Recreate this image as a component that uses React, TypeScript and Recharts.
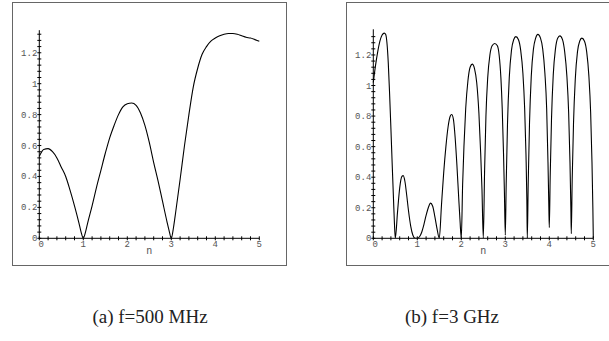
import React from "react";
import { LineChart, Line, XAxis, YAxis } from "recharts";

// f = 500 MHz
const leftN = [0, 0.1, 0.2, 0.3, 0.4, 0.5, 0.6, 0.7, 0.8, 0.9, 0.95, 1.0, 1.05, 1.1, 1.2, 1.3, 1.4, 1.5, 1.6, 1.7, 1.8, 1.9, 2.0, 2.1, 2.2, 2.3, 2.4, 2.5, 2.6, 2.7, 2.8, 2.9, 2.95, 3.0, 3.05, 3.1, 3.2, 3.3, 3.4, 3.5, 3.6, 3.7, 3.8, 3.9, 4.0, 4.1, 4.2, 4.3, 4.4, 4.5, 4.6, 4.7, 4.8, 4.9, 5.0];
const leftV = [0.53, 0.575, 0.58, 0.56, 0.52, 0.46, 0.4, 0.31, 0.21, 0.1, 0.04, 0.0, 0.04, 0.1, 0.21, 0.33, 0.44, 0.55, 0.65, 0.73, 0.8, 0.85, 0.87, 0.875, 0.86, 0.81, 0.73, 0.62, 0.49, 0.37, 0.24, 0.11, 0.05, 0.0, 0.07, 0.17, 0.38, 0.6, 0.8, 0.98, 1.1, 1.19, 1.24, 1.275, 1.295, 1.31, 1.32, 1.325, 1.325, 1.32, 1.31, 1.3, 1.295, 1.285, 1.275];

// f = 3 GHz
const rightN = [
  0, 0.05, 0.1, 0.15, 0.2, 0.25, 0.28, 0.31, 0.34, 0.37, 0.4, 0.43, 0.46, 0.48, 0.5,
  0.55, 0.6, 0.65, 0.68, 0.72, 0.76, 0.8, 0.85, 0.9, 0.95, 1.0, 1.05, 1.1,
  1.15, 1.2, 1.25, 1.3, 1.35, 1.4, 1.45, 1.5,
  1.55, 1.6, 1.65, 1.7, 1.75, 1.78, 1.82, 1.86, 1.9, 1.94, 1.97, 2.0,
  2.03, 2.06, 2.1, 2.15, 2.2, 2.25, 2.3, 2.35, 2.4, 2.44, 2.47, 2.5,
  2.53, 2.56, 2.6, 2.65, 2.7, 2.76, 2.82, 2.86, 2.9, 2.93, 2.96, 2.98, 3.0,
  3.02, 3.05, 3.09, 3.14, 3.19, 3.24, 3.3, 3.35, 3.4, 3.44, 3.47, 3.49, 3.5,
  3.52, 3.55, 3.59, 3.64, 3.69, 3.74, 3.8, 3.85, 3.9, 3.94, 3.97, 3.99, 4.0,
  4.02, 4.05, 4.09, 4.14, 4.19, 4.24, 4.3, 4.35, 4.4, 4.44, 4.47, 4.49, 4.5,
  4.52, 4.55, 4.59, 4.64, 4.69, 4.74, 4.8, 4.85, 4.9, 4.94, 4.97, 4.99, 5.0,
];
const rightV = [
  1.02, 1.13, 1.22, 1.29, 1.33, 1.343, 1.335, 1.28, 1.15, 0.95, 0.72, 0.48, 0.25, 0.1, 0.0,
  0.17, 0.33, 0.405, 0.41, 0.37, 0.28, 0.18, 0.08, 0.02, 0.0, 0.0, 0.01, 0.04,
  0.09, 0.15, 0.2, 0.23, 0.21, 0.14, 0.06, 0.0,
  0.22, 0.43, 0.6, 0.73, 0.8, 0.81, 0.78, 0.66, 0.48, 0.27, 0.12, 0.0,
  0.35, 0.6, 0.85, 1.03, 1.12, 1.14, 1.11, 1.02, 0.82, 0.56, 0.32, 0.0,
  0.45, 0.8, 1.05, 1.2, 1.26, 1.275, 1.26, 1.2, 1.05, 0.85, 0.55, 0.3, 0.02,
  0.35, 0.75, 1.05, 1.23, 1.3, 1.32, 1.3, 1.23, 1.08, 0.85, 0.55, 0.25, 0.0,
  0.35, 0.75, 1.06, 1.24, 1.31, 1.335, 1.31, 1.24, 1.08, 0.85, 0.5, 0.2, 0.07,
  0.4, 0.78, 1.07, 1.24, 1.31, 1.325, 1.3, 1.22, 1.06, 0.82, 0.5, 0.2, 0.03,
  0.38, 0.75, 1.04, 1.22, 1.29, 1.31, 1.29, 1.22, 1.06, 0.82, 0.5, 0.2, 0.0,
];

const xTicks = [0, 0.2, 0.4, 0.6, 0.8, 1, 1.2, 1.4, 1.6, 1.8, 2, 2.2, 2.4, 2.6, 2.8, 3, 3.2, 3.4, 3.6, 3.8, 4, 4.2, 4.4, 4.6, 4.8, 5];
const yTicks = [0, 0.04, 0.08, 0.12, 0.16, 0.2, 0.24, 0.28, 0.32, 0.36, 0.4, 0.44, 0.48, 0.52, 0.56, 0.6, 0.64, 0.68, 0.72, 0.76, 0.8, 0.84, 0.88, 0.92, 0.96, 1, 1.04, 1.08, 1.12, 1.16, 1.2, 1.24, 1.28, 1.32];
const xLabels = [0, 1, 2, 3, 4, 5];
const yLabels = [0, 0.2, 0.4, 0.6, 0.8, 1, 1.2];
const captions = ["(a) f=500 MHz", "(b) f=3 GHz"];
const xTitle = "n";

const leftData = leftN.map((n, i) => ({ n, v: leftV[i] }));
const rightData = rightN.map((n, i) => ({ n, v: rightV[i] }));

const LABEL_FONT = "'Liberation Mono', 'DejaVu Sans Mono', monospace";
const LABEL_COLOR = "#555";

const isLabel = (v: number, arr: number[]) => arr.some((a) => Math.abs(a - v) < 1e-6);

const XTick = (props: any) => {
  const { x, y, payload } = props;
  const v = payload.value as number;
  const major = isLabel(v, xLabels);
  return (
    <g>
      <line x1={x} x2={x} y1={y - 2} y2={y + 2} stroke="#000" strokeWidth={1} />
      {major && (
        <text
          x={v === 0 ? x + 2 : x}
          y={y + 9}
          textAnchor="middle"
          fontFamily={LABEL_FONT}
          fontSize={9}
          fill={LABEL_COLOR}
        >
          {String(v)}
        </text>
      )}
    </g>
  );
};

const YTick = (props: any) => {
  const { x, y, payload } = props;
  const v = payload.value as number;
  const major = isLabel(v, yLabels);
  return (
    <g>
      <line x1={x - 2} x2={x + 2} y1={y} y2={y} stroke="#000" strokeWidth={1} />
      {major && (
        <text
          x={x - 2}
          y={y + 3}
          textAnchor="end"
          fontFamily={LABEL_FONT}
          fontSize={9}
          fill={LABEL_COLOR}
        >
          {String(v)}
        </text>
      )}
    </g>
  );
};

const Panel = ({ data, yMax, top }: { data: any[]; yMax: number; top: number }) => (
  <LineChart
    width={300}
    height={280}
    data={data}
    margin={{ top, right: 40.7, bottom: 0, left: 0 }}
  >
    <XAxis
      dataKey="n"
      type="number"
      domain={[0, 5]}
      ticks={xTicks}
      interval={0}
      height={41.7}
      tickSize={0}
      tickMargin={0}
      tick={<XTick />}
      axisLine={{ stroke: "#000", strokeWidth: 1 }}
      tickLine={false}
      label={{ value: xTitle, position: "insideTop", offset: 9, fontFamily: LABEL_FONT, fontSize: 10, fill: LABEL_COLOR }}
    />
    <YAxis
      type="number"
      domain={[0, yMax]}
      ticks={yTicks}
      interval={0}
      width={39.3}
      tickSize={0}
      tickMargin={0}
      tick={<YTick />}
      axisLine={{ stroke: "#000", strokeWidth: 1 }}
      tickLine={false}
      allowDataOverflow
    />
    <Line
      dataKey="v"
      type="monotone"
      stroke="#000"
      strokeWidth={1.1}
      dot={false}
      isAnimationActive={false}
    />
  </LineChart>
);

const frameStyle: React.CSSProperties = {
  position: "absolute",
  border: "1.5px solid #666",
  boxSizing: "border-box",
};

const captionStyle: React.CSSProperties = {
  position: "absolute",
  top: 306,
  width: 300,
  textAlign: "center",
  fontFamily: "'Liberation Serif', 'Times New Roman', serif",
  fontSize: 19,
  color: "#222",
  lineHeight: "22px",
  whiteSpace: "nowrap",
};

export default function App() {
  return (
    <div style={{ position: "absolute", left: 0, top: 0, width: 609, height: 341, background: "#fff", overflow: "hidden" }}>
      <div style={{ ...frameStyle, left: 12, top: 2, width: 275, height: 264 }} />
      <div style={{ ...frameStyle, left: 346, top: 2, width: 280, height: 264 }} />
      <div style={{ position: "absolute", left: 0, top: 0 }}>
        <Panel data={leftData} yMax={1.346} top={30.2} />
      </div>
      <div style={{ position: "absolute", left: 334, top: 0 }}>
        <Panel data={rightData} yMax={1.368} top={29.3} />
      </div>
      <div style={{ ...captionStyle, left: 0 }}>{captions[0]}</div>
      <div style={{ ...captionStyle, left: 302 }}>{captions[1]}</div>
    </div>
  );
}
